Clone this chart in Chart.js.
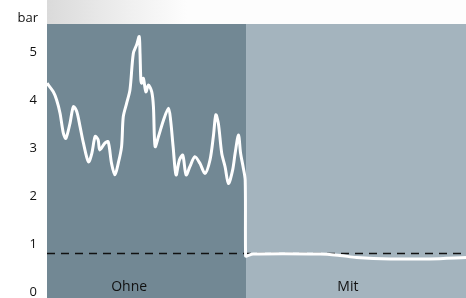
<!DOCTYPE html>
<html>
<head>
<meta charset="utf-8">
<script src="https://cdn.jsdelivr.net/npm/chart.js@4"></script>
<style>
  html, body { margin: 0; padding: 0; background: #fff; }
  #wrap { width: 466px; height: 298px; }
</style>
</head>
<body>
<div id="wrap"><canvas id="druckChart"></canvas></div>
<script>
// Zeit (0..100) und Druck in bar
const zeit = [0, 1.5, 2.3, 3.1, 3.9, 4.5, 5.5, 6.3, 7.1, 7.9, 8.7, 9.9, 10.7, 11.5, 12.2, 12.6,
  13.8, 14.6, 15.4, 16.2, 17.0, 17.8, 18.2, 19.0, 19.8, 20.6, 21.4, 22.0, 22.2, 22.4, 22.6,
  23.0, 23.6, 24.2, 25.0, 25.4, 25.8, 26.6, 27.8, 29.0, 29.5, 30.1, 30.8, 31.6, 32.4, 33.2,
  34.1, 35.3, 36.5, 37.7, 38.9, 39.7, 40.3, 40.9, 41.7, 42.5, 43.3, 44.3, 44.9, 45.7, 46.2,
  46.8, 47.3, 47.4, 47.7, 49.2, 65.2, 69.9, 73.9, 81.9, 91.4, 100];
const druck = [4.35, 4.17, 4.0, 3.73, 3.31, 3.2, 3.52, 3.86, 3.76, 3.44, 3.1, 2.71, 2.89, 3.24, 3.17, 2.96,
  3.1, 3.13, 2.68, 2.44, 2.68, 3.03, 3.65, 3.93, 4.21, 4.97, 5.15, 5.32, 4.97, 4.42, 4.35,
  4.45, 4.17, 4.31, 4.17, 3.86, 3.03, 3.24, 3.58, 3.83, 3.58, 3.03, 2.44, 2.75, 2.85, 2.44,
  2.61, 2.82, 2.68, 2.47, 2.75, 3.24, 3.69, 3.51, 2.89, 2.61, 2.26, 2.54, 2.89, 3.27, 2.89,
  2.61, 2.33, 0.75, 0.75, 0.79, 0.79, 0.76, 0.72, 0.69, 0.69, 0.72];

const grenzwert = 0.8;      // gestrichelte Linie
const wechsel = 47.5;       // Übergang Ohne -> Mit
const bereiche = ["Ohne", "Mit"];
const bereichMitte = [19.6, 71.8];
const yTicks = [0, 1, 2, 3, 4, 5];
const einheit = "bar";

// Hintergrund, Kopfleiste und Beschriftungen
const hintergrund = {
  id: "hintergrund",
  beforeDatasetsDraw(chart) {
    const { ctx, chartArea: a, scales: { x } } = chart;
    const xw = x.getPixelForValue(wechsel);
    ctx.save();
    const g = ctx.createLinearGradient(a.left, 0, a.left + 140, 0);
    g.addColorStop(0, "#dadada");
    g.addColorStop(0.6, "#f0f0f0");
    g.addColorStop(1, "#fdfdfd");
    ctx.fillStyle = g;
    ctx.fillRect(a.left, 0, a.right - a.left, a.top);
    ctx.fillStyle = "#728894";
    ctx.fillRect(a.left, a.top, xw - a.left, a.bottom - a.top);
    ctx.fillStyle = "#a4b4be";
    ctx.fillRect(xw, a.top, a.right - xw, a.bottom - a.top);
    ctx.restore();
  },
  afterDatasetsDraw(chart) {
    const { ctx, scales: { x } } = chart;
    ctx.save();
    ctx.fillStyle = "#111";
    ctx.font = "14px 'Open Sans'";
    ctx.textAlign = "center";
    ctx.textBaseline = "middle";
    bereiche.forEach((b, i) => ctx.fillText(b, x.getPixelForValue(bereichMitte[i]), 287));
    ctx.font = "13px 'Open Sans'";
    ctx.textAlign = "right";
    ctx.fillText(einheit, 38, 18);
    ctx.restore();
  }
};

const ctx = document.getElementById("druckChart").getContext("2d");
new Chart(ctx, {
  type: "line",
  data: {
    datasets: [
      {
        label: "Druck",
        data: zeit.map((t, i) => ({ x: t, y: druck[i] })),
        borderColor: "#ffffff",
        borderWidth: 3,
        pointRadius: 0,
        tension: 0.3,
        order: 0
      },
      {
        label: "Grenzwert",
        data: [{ x: 0, y: grenzwert }, { x: 100, y: grenzwert }],
        borderColor: "#111",
        borderWidth: 1.5,
        borderDash: [8, 6],
        pointRadius: 0,
        order: 1
      }
    ]
  },
  options: {
    responsive: true,
    maintainAspectRatio: false,
    animation: false,
    layout: { padding: { top: 24, right: 0, bottom: 0, left: 0 } },
    plugins: { legend: { display: false }, tooltip: { enabled: false } },
    scales: {
      x: { type: "linear", min: 0, max: 100, display: false },
      y: {
        min: -0.125,
        max: 5.583,
        grid: { display: false, drawTicks: false },
        border: { display: false },
        afterBuildTicks: (s) => { s.ticks = yTicks.map(v => ({ value: v })); },
        afterFit: (s) => { s.width = 47; s.paddingTop = 0; s.paddingBottom = 0; },
        ticks: { padding: 10, color: "#111", font: { family: "Open Sans", size: 13 } }
      }
    }
  },
  plugins: [hintergrund]
});
</script>
</body>
</html>
